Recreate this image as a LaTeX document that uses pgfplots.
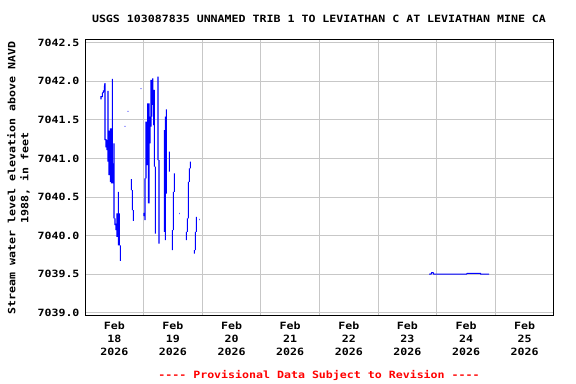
\documentclass[border=0pt]{standalone}
\usepackage{fontspec}
\usepackage{pgfplots}
\pgfplotsset{compat=1.18}
\newfontfamily\chartfont{DejaVu Sans Mono}[FakeStretch=1.16]
\newcommand{\cf}{\chartfont\bfseries\fontsize{10bp}{13bp}\selectfont}
\begin{document}
\begin{tikzpicture}
\useasboundingbox[fill=white] (0,0) rectangle (576bp,384bp);
\begin{axis}[
  at={(85bp,68bp)}, anchor=south west,
  scale only axis, width=469bp, height=276bp,
  xmin=0, xmax=8, ymin=7038.957, ymax=7042.535,
  xtick={0.5,1.5,2.5,3.5,4.5,5.5,6.5,7.5},
  xticklabels={{Feb\\18\\2026},{Feb\\19\\2026},{Feb\\20\\2026},{Feb\\21\\2026},{Feb\\22\\2026},{Feb\\23\\2026},{Feb\\24\\2026},{Feb\\25\\2026}},
  minor xtick={1,2,3,4,5,6,7},
  ytick={7039,7039.5,7040,7040.5,7041,7041.5,7042,7042.5},
  ymajorgrids, xminorgrids,
  grid style={color=black!22, line width=0.75bp},
  minor grid style={color=black!22, line width=0.75bp},
  major tick length=0pt, minor tick length=0pt,
  axis line style={line width=1bp},
  tick label style={font=\cf},
  xticklabel style={align=center, yshift=-2bp},
  yticklabel style={xshift=-2bp},
  /pgf/number format/assume math mode=true,
  yticklabel={\pgfmathprintnumber[fixed, fixed zerofill, precision=1, 1000 sep={}]{\tick}},
  unbounded coords=jump,
]
\addplot[blue, line width=1.1bp] coordinates {
(0.273,7041.766) (0.273,7041.801) (0.296,7041.801) (0.296,7041.844) (0.313,7041.857) (0.313,7041.874)
(0.330,7041.874) (0.330,7041.922) (0.341,7041.974) (0.341,7041.238) (0.3415,nan)
(0.358,7041.251) (0.358,7041.143) (0.3585,nan)
(0.375,7041.238) (0.375,7041.108) (0.3755,nan)
(0.392,7041.874) (0.392,7040.957) (0.3925,nan)
(0.410,7041.359) (0.410,7040.784) (0.4105,nan)
(0.432,7041.390) (0.432,7040.697) (0.4325,nan)
(0.449,7041.390) (0.449,7040.675) (0.4495,nan)
(0.466,7042.030) (0.466,7040.675) (0.4665,nan)
(0.484,7040.935) (0.484,7040.675) (0.4845,nan)
(0.495,7041.195) (0.495,7040.221) (0.4955,nan)
(0.512,7040.221) (0.512,7040.134) (0.5125,nan)
(0.529,7040.156) (0.529,7040.069) (0.5295,nan)
(0.546,7040.286) (0.546,7039.983) (0.5465,nan)
(0.569,7040.567) (0.569,7039.874) (0.5695,nan)
(0.586,7040.286) (0.586,7039.874) (0.5865,nan)
(0.603,7039.874) (0.603,7039.671) (0.6035,nan)
(0.677,7041.416) (0.689,7041.416) (0.690,nan)
(0.728,7041.610) (0.740,7041.610) (0.741,nan)
(0.791,7040.732) (0.791,7040.589) (0.7915,nan)
(0.808,7040.589) (0.808,7040.329) (0.8085,nan)
(0.825,7040.329) (0.825,7040.190) (0.8255,nan)
(0.950,7041.905) (0.962,7041.905) (0.963,nan)
(1.007,7040.294) (1.007,7040.251) (1.0075,nan)
(1.024,7040.740) (1.024,7040.199) (1.0245,nan)
(1.041,7041.476) (1.041,7040.740) (1.0415,nan)
(1.052,7041.476) (1.052,7040.913) (1.0525,nan)
(1.069,7041.714) (1.069,7040.913) (1.0695,nan)
(1.081,7040.913) (1.081,7040.416) (1.0815,nan)
(1.092,7041.714) (1.092,7040.416) (1.0925,nan)
(1.109,7041.541) (1.109,7041.195) (1.1095,nan)
(1.126,7042.017) (1.126,7041.411) (1.1265,nan)
(1.138,7042.017) (1.138,7041.541) (1.1385,nan)
(1.155,7042.039) (1.155,7041.693) (1.1555,nan)
(1.172,7041.887) (1.172,7041.433) (1.1725,nan)
(1.183,7041.887) (1.183,7040.892) (1.1835,nan)
(1.200,7040.892) (1.200,7040.026) (1.2005,nan)
(1.246,7042.061) (1.246,7040.978) (1.2465,nan)
(1.263,7040.978) (1.263,7039.896) (1.2635,nan)
(1.354,7041.368) (1.354,7040.048) (1.3545,nan)
(1.371,7041.541) (1.371,7039.939) (1.3715,nan)
(1.388,7041.636) (1.388,7040.545) (1.3885,nan)
(1.439,7041.087) (1.439,7040.827) (1.4395,nan)
(1.490,7040.069) (1.490,7039.810) (1.4905,nan)
(1.507,7040.567) (1.507,7040.069) (1.5075,nan)
(1.524,7040.805) (1.524,7040.567) (1.5245,nan)
(1.604,7040.286) (1.616,7040.286) (1.617,nan)
(1.729,7040.048) (1.729,7039.939) (1.7295,nan)
(1.746,7040.221) (1.746,7040.048) (1.7465,nan)
(1.763,7040.697) (1.763,7040.221) (1.7635,nan)
(1.780,7040.870) (1.780,7040.697) (1.7805,nan)
(1.798,7040.957) (1.798,7040.870) (1.7985,nan)
(1.866,7039.810) (1.866,7039.766) (1.8665,nan)
(1.883,7040.048) (1.883,7039.810) (1.8835,nan)
(1.900,7040.242) (1.900,7040.048) (1.9005,nan)
(1.945,7040.208) (1.957,7040.208) (1.958,nan)
(5.869,7039.50) (5.903,7039.50) (5.915,7039.52) (5.937,7039.52) (5.949,7039.50) (5.983,7039.50)
(6.506,7039.50) (6.523,7039.51) (6.552,7039.51) (6.745,7039.51) (6.750,7039.50) (6.893,7039.50)
};
\end{axis}
\node[font=\cf, anchor=center] at (319bp,365bp) {USGS 103087835 UNNAMED TRIB 1 TO LEVIATHAN C AT LEVIATHAN MINE CA};
\node[font=\cf, rotate=90, align=center, anchor=center] at (18.5bp,206bp) {Stream water level elevation above NAVD\\1988, in feet};
\node[font=\cf, text=red, anchor=center] at (319bp,9bp) {---- Provisional Data Subject to Revision ----};
\end{tikzpicture}
\end{document}
